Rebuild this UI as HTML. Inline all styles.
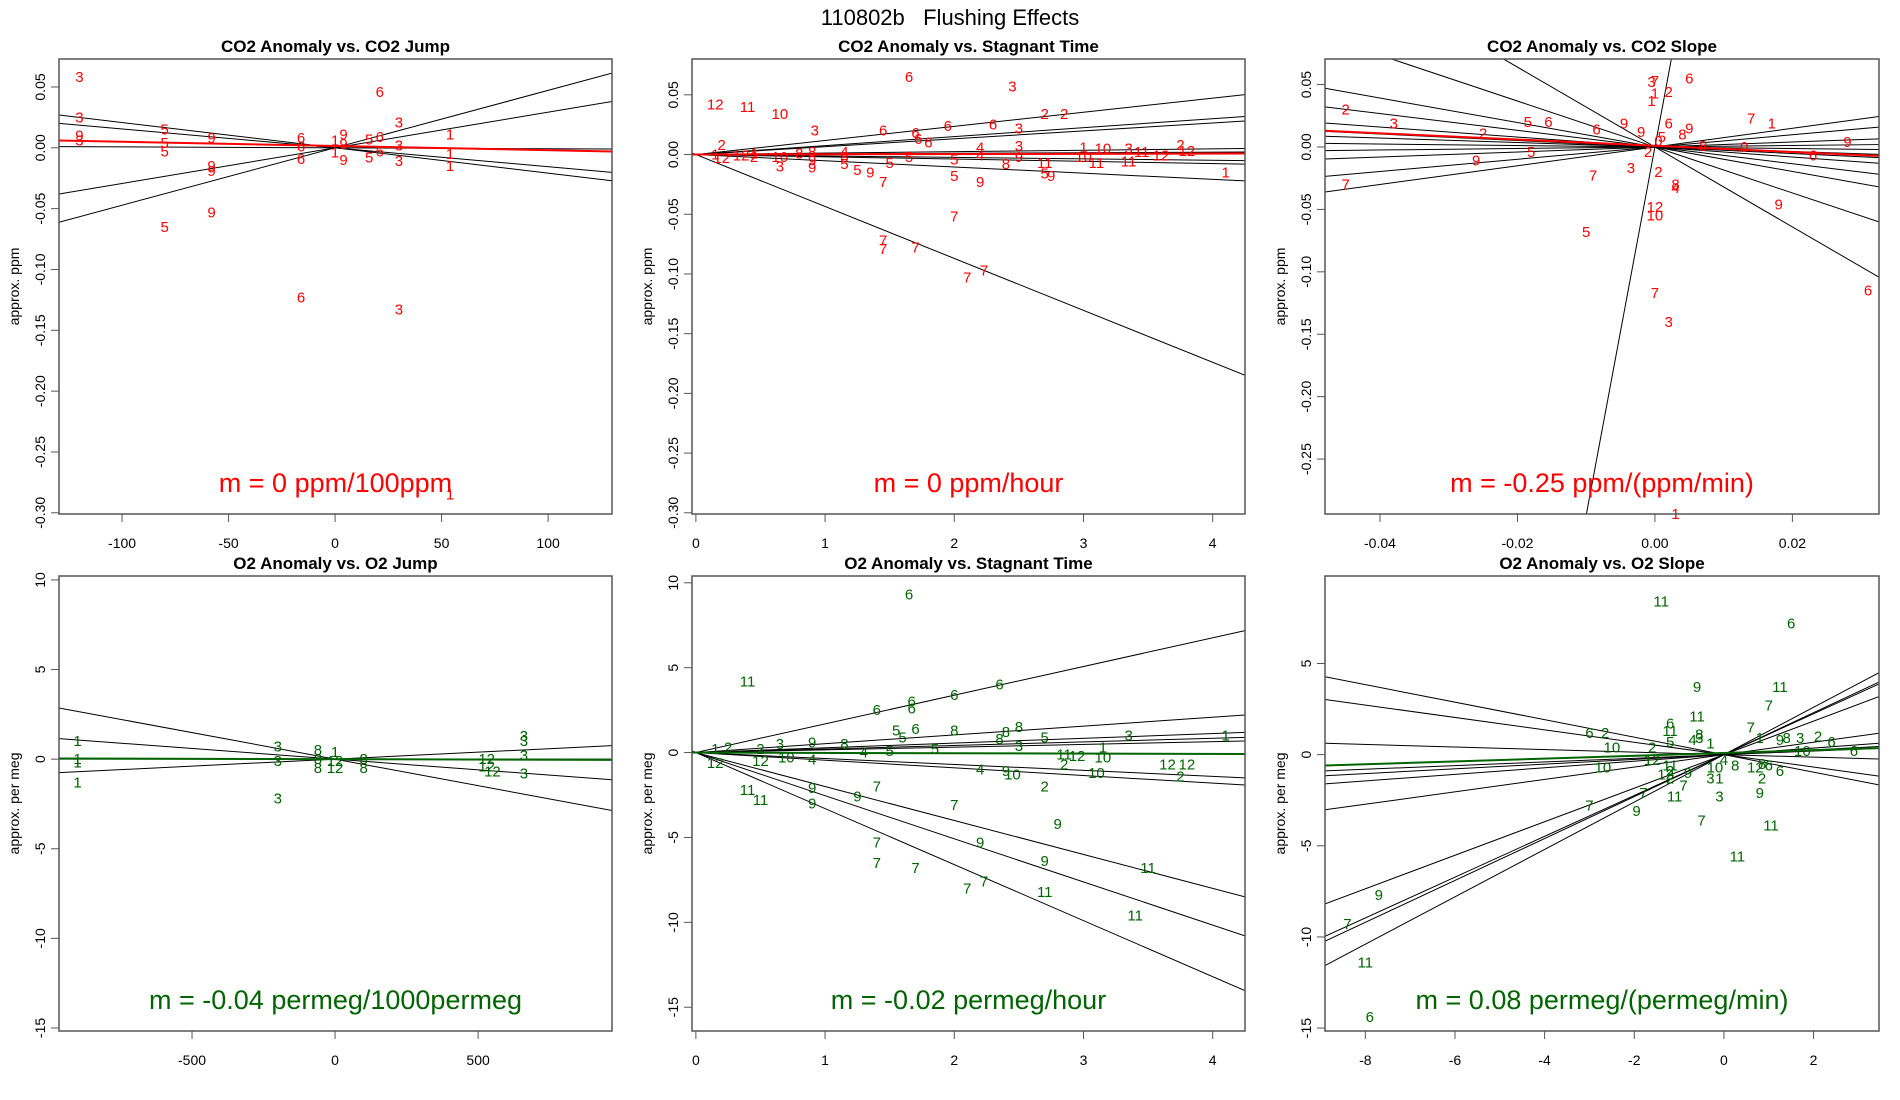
<!DOCTYPE html>
<html><head><meta charset="utf-8">
<style>
html,body{margin:0;padding:0;background:#fff;width:1900px;height:1100px;overflow:hidden;}
svg{display:block;font-family:"Liberation Sans",sans-serif;}
</style></head>
<body>
<svg id="fig" width="1900" height="1100" viewBox="0 0 1900 1100" xmlns="http://www.w3.org/2000/svg">
<text x="950" y="25" text-anchor="middle" font-size="22" fill="#000" style="white-space:pre">110802b   Flushing Effects</text>
</svg>
<script>
// ---------- Panel 1: CO2 Anomaly vs CO2 Jump ----------
const p1Labels=["3","3","9","3","5","5","5","9","9","9","5","9","6","6","6","6","1","1","9","9","9","5","5","6","6","6","3","3","3","3","1","1","1","1"];
const p1X=[-120,-120,-120,-120,-80,-80,-80,-58,-58,-58,-80,-58,-16,-16,-16,-16,0,0,4,4,4,16,16,21,21,21,30,30,30,30,54,54,54,54];
const p1Y=[0.058,0.025,0.010,0.006,0.015,0.004,-0.003,0.008,-0.015,-0.019,-0.065,-0.053,0.008,0.001,-0.009,-0.123,0.006,-0.004,0.011,0.003,-0.010,0.007,-0.008,0.046,0.009,-0.003,0.021,0.002,-0.011,-0.133,0.011,-0.005,-0.015,-0.285];
const p1Slopes=[-0.000208,-0.000155,0.000293,0.000472,-0.0000077];
const p1FitSlope=-0.0000346, p1FitIntercept=0.0015;
const p1XTicks=[-100,-50,0,50,100];
const p1YTicks=[0.05,0,-0.05,-0.1,-0.15,-0.2,-0.25,-0.3];
const p1YTickLabels=["0.05","0.00","-0.05","-0.10","-0.15","-0.20","-0.25","-0.30"];

// ---------- Panel 2: CO2 Anomaly vs Stagnant Time ----------
const p2Labels=["12","11","10","6","3","2","2","3","6","6","6","6","3","6","6","3","4","4","2","12","3","1","10","11","12","11","11","10","11","9","8","5","5","5","9","7","5","9","5","9","7","7","7","7","7","7","1","2","1","12","2","1","10","12","3","8","9","9","4","8","5","8","5"];
const p2X=[0.15,0.4,0.65,1.65,2.45,2.7,2.85,0.92,1.45,1.7,1.95,2.3,2.5,1.72,1.8,2.5,2.2,2.2,3.75,3.8,3.35,3.0,3.15,3.45,3.6,3.1,3.35,3.0,2.7,2.5,2.4,2.0,1.5,1.25,1.35,1.45,2.0,2.2,2.7,2.75,2.0,1.45,1.45,1.7,2.1,2.23,4.1,0.2,0.15,0.2,0.45,0.45,0.65,0.35,0.65,0.9,0.9,0.9,1.15,1.15,1.15,0.8,1.65];
const p2Y=[0.042,0.040,0.034,0.065,0.057,0.034,0.034,0.020,0.020,0.018,0.024,0.025,0.022,0.013,0.010,0.007,0.006,-0.001,0.008,0.003,0.005,0.006,0.005,0.002,-0.001,-0.007,-0.006,-0.002,-0.007,-0.002,-0.008,-0.004,-0.007,-0.013,-0.015,-0.023,-0.018,-0.023,-0.016,-0.018,-0.052,-0.072,-0.079,-0.078,-0.103,-0.097,-0.015,0.008,0.0,-0.003,-0.002,0.001,-0.002,-0.001,-0.010,0.002,-0.005,-0.011,0.002,-0.002,-0.008,0.001,-0.002];
const p2Slopes=[0.0118,0.0075,0.0066,0.0012,0.0005,-0.0012,-0.0019,-0.0052,-0.0435];
const p2FitSlope=0.0002, p2FitIntercept=0.0;
const p2XTicks=[0,1,2,3,4];
const p2YTicks=p1YTicks, p2YTickLabels=p1YTickLabels;

// ---------- Panel 3: CO2 Anomaly vs CO2 Slope ----------
const p3Labels=["2","7","3","2","5","6","9","5","6","9","7","5","3","7","1","1","2","6","6","9","8","3","2","8","4","12","10","7","3","1","7","1","8","0","6","9","9","6","0","2","5","9"];
const p3X=[-0.045,-0.045,-0.038,-0.025,-0.0185,-0.0155,-0.026,-0.018,-0.0085,-0.0045,-0.009,-0.010,-0.0005,0,0,-0.0005,0.002,0.005,0.002,0.005,0.004,-0.0035,0.0005,0.003,0.003,0,0,0,0.002,0.003,0.014,0.017,0.007,0.013,0.023,0.028,0.018,0.031,0.0005,-0.001,0.001,-0.002];
const p3Y=[0.030,-0.030,0.019,0.011,0.020,0.020,-0.011,-0.004,0.014,0.019,-0.023,-0.068,0.052,0.053,0.043,0.037,0.044,0.055,0.019,0.015,0.010,-0.017,-0.020,-0.030,-0.033,-0.048,-0.055,-0.117,-0.140,-0.294,0.023,0.019,0.001,0.0,-0.007,0.004,-0.046,-0.115,0.005,-0.004,0.008,0.012];
const p3Slopes=[-0.98,-0.67,-0.40,-0.26,-0.18,-0.06,0.06,0.20,0.49,0.75,29.5,-3.2,-1.84];
const p3FitSlope=-0.25, p3FitIntercept=0.001;
const p3XTicks=[-0.04,-0.02,0,0.02];
const p3XTickLabels=["-0.04","-0.02","0.00","0.02"];
const p3YTicks=[0.05,0,-0.05,-0.1,-0.15,-0.2,-0.25];
const p3YTickLabels=["0.05","0.00","-0.05","-0.10","-0.15","-0.20","-0.25"];

// ---------- Panel 4: O2 Anomaly vs O2 Jump ----------
const p4Labels=["1","1","1","1","3","3","3","8","8","8","1","12","12","8","8","12","12","12","3","3","3","3"];
const p4X=[-900,-900,-900,-900,-200,-200,-200,-60,-60,-60,0,0,0,100,100,530,530,550,660,660,660,660];
const p4Y=[1.0,0.0,-0.2,-1.3,0.7,-0.1,-2.2,0.5,0.0,-0.5,0.4,-0.1,-0.5,0.0,-0.5,0.0,-0.4,-0.7,1.3,1.0,0.2,-0.8];
const p4Slopes=[-0.00296,-0.00119,0.0,0.00078];
const p4FitSlope=-0.00004, p4FitIntercept=0.0;
const p4XTicks=[-500,0,500];
const p4YTicks=[10,5,0,-5,-10,-15];

// ---------- Panel 5: O2 Anomaly vs Stagnant Time ----------
const p5Labels=["11","6","6","6","6","6","6","3","1","5","6","8","8","8","5","3","8","5","4","5","9","3","2","11","11","12","1","2","9","9","9","7","7","7","7","7","9","9","7","7","11","11","11","9","2","2","2","12","12","10","9","4","10","11","12","10","1","12","10","4","8","5"];
const p5X=[0.4,1.65,1.4,1.67,1.67,2.0,2.35,3.35,4.1,1.55,1.7,2.0,2.5,2.4,2.7,2.5,2.35,1.6,1.3,1.5,0.9,0.65,0.5,0.4,0.5,0.15,0.15,0.25,0.9,0.9,1.25,1.4,1.4,1.4,1.7,2.0,2.2,2.7,2.1,2.23,2.7,3.4,3.5,2.8,2.7,2.85,3.75,3.65,3.8,2.45,2.4,2.2,3.1,2.85,2.95,3.15,3.15,0.5,0.7,0.9,1.15,1.85];
const p5Y=[4.2,9.3,2.5,3.0,2.6,3.4,4.0,1.0,1.0,1.3,1.4,1.3,1.5,1.2,0.9,0.4,0.8,0.9,0.0,0.1,0.6,0.5,0.2,-2.2,-2.8,-0.6,0.2,0.3,-2.1,-3.0,-2.6,-2.0,-5.3,-6.5,-6.8,-3.1,-5.3,-6.4,-8.0,-7.6,-8.2,-9.6,-6.8,-4.2,-2.0,-0.7,-1.4,-0.7,-0.7,-1.3,-1.1,-1.0,-1.2,-0.1,-0.2,-0.3,0.3,-0.5,-0.3,-0.4,0.5,0.2];
const p5Slopes=[1.69,0.52,0.28,0.21,0.16,-0.35,-0.45,-2.0,-2.54,-3.3];
const p5FitSlope=-0.02, p5FitIntercept=0.0;
const p5XTicks=[0,1,2,3,4];
const p5YTicks=[10,5,0,-5,-10,-15];

// ---------- Panel 6: O2 Anomaly vs O2 Slope ----------
const p6Labels=["11","6","9","11","7","11","7","6","11","6","2","10","10","5","4","8","3","1","2","3","2","6","6","10","8","9","1","11","12","2","12","2","9","3","1","10","4","8","12","8","6","6","2","9","3","7","7","7","11","9","7","11","11","9","7","11","6"];
const p6X=[-1.4,1.5,-0.6,1.25,1.0,-0.6,0.6,-1.2,-1.2,-3.0,-2.65,-2.5,-2.7,-1.2,-0.7,-0.55,-0.55,-0.3,-1.6,1.7,2.1,2.4,2.9,1.75,1.4,1.25,0.8,-1.2,-1.6,-1.2,-1.3,-1.2,-0.8,-0.3,-0.1,-0.2,0.0,0.25,0.7,0.85,1.0,1.25,0.85,0.8,-0.1,-0.5,-0.9,-1.8,-1.1,-1.95,-3.0,1.05,0.3,-7.7,-8.4,-8.0,-7.9];
const p6Y=[8.4,7.2,3.7,3.7,2.7,2.1,1.5,1.7,1.3,1.2,1.2,0.4,-0.7,0.7,0.8,1.1,0.9,0.6,0.4,0.9,1.0,0.7,0.2,0.2,0.9,0.8,0.9,-0.6,-0.3,-0.9,-1.1,-1.3,-1.0,-1.3,-1.3,-0.7,-0.3,-0.6,-0.7,-0.5,-0.6,-0.9,-1.3,-2.1,-2.3,-3.6,-1.7,-2.1,-2.3,-3.1,-2.8,-3.9,-5.6,-7.7,-9.3,-11.4,-14.4];
const p6Slopes=[-0.48,-0.34,-0.07,0.10,0.13,0.18,0.34,0.92,1.12,1.15,1.30];
const p6FitSlope=0.077, p6FitIntercept=0.09;
const p6XTicks=[-8,-6,-4,-2,0,2];
const p6YTicks=[5,0,-5,-10,-15];

const NS="http://www.w3.org/2000/svg";
const fig=document.getElementById('fig');
function mk(tag,attrs,parent){const e=document.createElementNS(NS,tag);for(const k in attrs)e.setAttribute(k,attrs[k]);(parent||fig).appendChild(e);return e;}

function panel(cfg){
  const {id,L,T,W,H,xmin,xmax,ymin,ymax,title,ylab,color,labels,xs,ys,slopes,fitS,fitI,xt,xtl,yt,ytl,note}=cfg;
  const sx=v=>L+(v-xmin)/(xmax-xmin)*W;
  const sy=v=>T+(ymax-v)/(ymax-ymin)*H;
  const g=mk('g',{});
  
  
  const cp=mk('clipPath',{id:id+'-clip'},g);
  mk('rect',{x:L,y:T,width:W,height:H},cp);
  const t=mk('text',{x:L+W/2,y:T-7,'text-anchor':'middle','font-size':17,'font-weight':'bold'},g);
  t.textContent=title;
  
  
  const yl=mk('text',{x:0,y:0,'text-anchor':'middle','font-size':14,transform:`translate(${L-40},${T+H/2}) rotate(-90)`},g);
  yl.textContent=ylab;
  
  
  const lg=mk('g',{'clip-path':`url(#${id}-clip)`},g);
  slopes.forEach((s,i)=>{
    const l=mk('line',{x1:sx(xmin),y1:sy(s*xmin),x2:sx(xmax),y2:sy(s*xmax),stroke:'#000','stroke-width':1},lg);
    
    
  });
  const fl=mk('line',{x1:sx(xmin),y1:sy(fitS*xmin+fitI),x2:sx(xmax),y2:sy(fitS*xmax+fitI),stroke:color,'stroke-width':2},lg);
  
  
  labels.forEach((lb,i)=>{
    const p=mk('text',{x:sx(xs[i]),y:sy(ys[i])+5,'text-anchor':'middle','font-size':15,fill:color},g);
    p.textContent=lb;
    
    
  });
  const n=mk('text',{x:L+W/2,y:T+H-22,'text-anchor':'middle','font-size':27,fill:color},g);
  n.textContent=note;
  
  
  const b=mk('rect',{x:L,y:T,width:W,height:H,fill:'none',stroke:'#555','stroke-width':1.5},g);
  
  
  xt.forEach((v,i)=>{
    const x=sx(v);
    mk('line',{x1:x,y1:T+H,x2:x,y2:T+H+8,stroke:'#555','stroke-width':1},g);
    const tl=mk('text',{x:x,y:T+H+34,'text-anchor':'middle','font-size':14},g);
    tl.textContent=xtl?xtl[i]:String(v);
    
    
  });
  yt.forEach((v,i)=>{
    const y=sy(v);
    mk('line',{x1:L,y1:y,x2:L-8,y2:y,stroke:'#555','stroke-width':1},g);
    const tl=mk('text',{x:0,y:0,'text-anchor':'middle','font-size':14,transform:`translate(${L-14},${y}) rotate(-90)`},g);
    tl.textContent=ytl?ytl[i]:String(v);
    
    
  });
}
const RED='#ff0000', GRN='#006400';
panel({id:'co2-jump',L:59,T:59,W:553,H:455,xmin:-129.6,xmax:130,ymin:-0.301,ymax:0.073,title:'CO2 Anomaly vs. CO2 Jump',ylab:'approx. ppm',color:RED,labels:p1Labels,xs:p1X,ys:p1Y,slopes:p1Slopes,fitS:p1FitSlope,fitI:p1FitIntercept,xt:p1XTicks,yt:p1YTicks,ytl:p1YTickLabels,note:'m = 0 ppm/100ppm'});
panel({id:'co2-stagnant',L:692,T:59,W:553,H:455,xmin:-0.03,xmax:4.25,ymin:-0.301,ymax:0.080,title:'CO2 Anomaly vs. Stagnant Time',ylab:'approx. ppm',color:RED,labels:p2Labels,xs:p2X,ys:p2Y,slopes:p2Slopes,fitS:p2FitSlope,fitI:p2FitIntercept,xt:p2XTicks,yt:p2YTicks,ytl:p2YTickLabels,note:'m = 0 ppm/hour'});
panel({id:'co2-slope',L:1325,T:59,W:554,H:455,xmin:-0.048,xmax:0.0326,ymin:-0.294,ymax:0.0705,title:'CO2 Anomaly vs. CO2 Slope',ylab:'approx. ppm',color:RED,labels:p3Labels,xs:p3X,ys:p3Y,slopes:p3Slopes,fitS:p3FitSlope,fitI:p3FitIntercept,xt:p3XTicks,xtl:p3XTickLabels,yt:p3YTicks,ytl:p3YTickLabels,note:'m = -0.25 ppm/(ppm/min)'});
panel({id:'o2-jump',L:59,T:576,W:553,H:455,xmin:-965,xmax:968,ymin:-15.17,ymax:10.22,title:'O2 Anomaly vs. O2 Jump',ylab:'approx. per meg',color:GRN,labels:p4Labels,xs:p4X,ys:p4Y,slopes:p4Slopes,fitS:p4FitSlope,fitI:p4FitIntercept,xt:p4XTicks,yt:p4YTicks,note:'m = -0.04 permeg/1000permeg'});
panel({id:'o2-stagnant',L:692,T:576,W:553,H:455,xmin:-0.03,xmax:4.25,ymin:-16.4,ymax:10.4,title:'O2 Anomaly vs. Stagnant Time',ylab:'approx. per meg',color:GRN,labels:p5Labels,xs:p5X,ys:p5Y,slopes:p5Slopes,fitS:p5FitSlope,fitI:p5FitIntercept,xt:p5XTicks,yt:p5YTicks,note:'m = -0.02 permeg/hour'});
panel({id:'o2-slope',L:1325,T:576,W:554,H:455,xmin:-8.9,xmax:3.46,ymin:-15.16,ymax:9.8,title:'O2 Anomaly vs. O2 Slope',ylab:'approx. per meg',color:GRN,labels:p6Labels,xs:p6X,ys:p6Y,slopes:p6Slopes,fitS:p6FitSlope,fitI:p6FitIntercept,xt:p6XTicks,yt:p6YTicks,note:'m = 0.08 permeg/(permeg/min)'});
</script>
</body></html>
